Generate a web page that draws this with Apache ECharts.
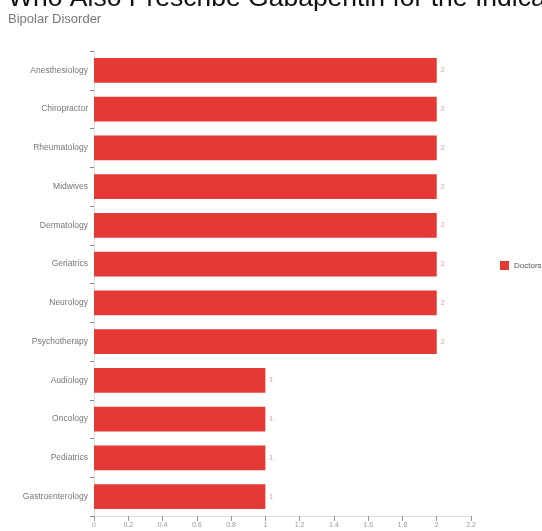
<!DOCTYPE html>
<html><head><meta charset="utf-8">
<script src="https://cdn.jsdelivr.net/npm/echarts@6/dist/echarts.min.js"></script>
<style>html,body{margin:0;padding:0;background:#fff}#c{width:542px;height:531px}</style>
</head><body><div id="c"></div>
<script>
const titleText = "Who Also Prescribe Gabapentin for the Indication";
const subtitleText = "Bipolar Disorder";
const seriesName = "Doctors";
const categories = ["Anesthesiology","Chiropractor","Rheumatology","Midwives","Dermatology","Geriatrics","Neurology","Psychotherapy","Audiology","Oncology","Pediatrics","Gastroenterology"];
const values = [2,2,2,2,2,2,2,2,1,1,1,1];
const xTicks = [0,0.2,0.4,0.6,0.8,1,1.2,1.4,1.6,1.8,2,2.2];

const chart = echarts.init(document.getElementById('c'));
chart.setOption({
  animation:false,
  title:{text:titleText, subtext:subtitleText, left:3, top:-20, itemGap:1,
    textStyle:{fontFamily:'Liberation Sans', fontSize:26.5, fontWeight:'normal', color:'#111'},
    subtextStyle:{fontFamily:'Liberation Sans', fontSize:13, color:'#777'}},
  legend:{orient:'vertical', left:495, top:'middle', itemWidth:9, itemHeight:9, icon:'rect',
    textStyle:{fontSize:8, color:'#555'}, data:[seriesName]},
  grid:{left:94, right:71, top:51, bottom:15, containLabel:false},
  xAxis:{type:'value', min:0, max:xTicks[xTicks.length-1], interval:0.2,
    axisLine:{show:true, lineStyle:{color:'#ddd'}},
    axisTick:{show:true, length:5, lineStyle:{color:'#999'}},
    axisLabel:{fontSize:7, color:'#999', margin:6, formatter:v=>String(+v.toFixed(1))},
    splitLine:{show:false}},
  yAxis:{type:'category', data:categories, inverse:true,
    axisLine:{show:true, lineStyle:{color:'#ddd'}},
    axisTick:{show:true, length:4, lineStyle:{color:'#888'}},
    axisLabel:{fontSize:8.5, color:'#777', margin:6}},
  series:[{name:seriesName, type:'bar', data:values, barCategoryGap:'36%',
    itemStyle:{color:'#e53935'},
    label:{show:true, position:'right', fontSize:7, color:'#ef9a9a', distance:4}}]
});
</script></body></html>
